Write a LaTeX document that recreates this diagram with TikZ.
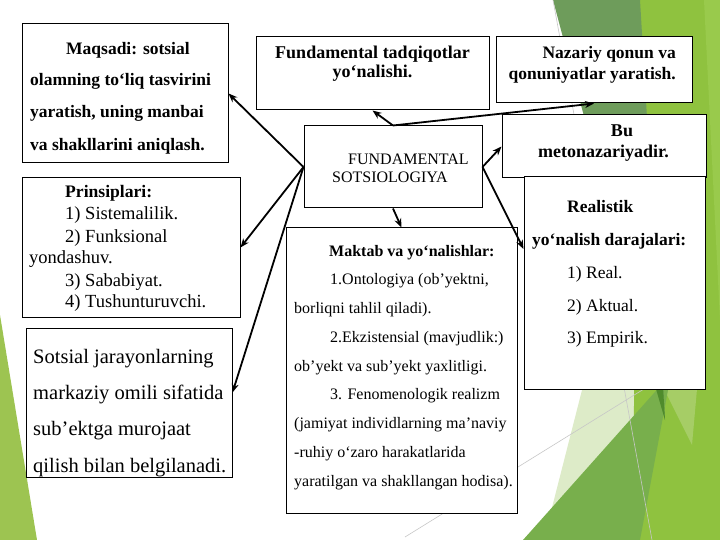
\documentclass[tikz,border=0pt]{standalone}
\usepackage{fontspec}
\setmainfont{Liberation Serif}
\usetikzlibrary{arrows.meta,calc}
\definecolor{leftgreen}{HTML}{9DC451}
\definecolor{sage}{HTML}{6E9C5B}
\definecolor{brightg}{HTML}{8FC23F}
\definecolor{stripg}{HTML}{99CA4C}
\definecolor{mediumg}{HTML}{78AF4C}
\definecolor{paleg}{HTML}{DDEBC8}
\definecolor{darkg}{HTML}{4F8B2C}
\definecolor{lightg}{HTML}{A6CD66}
\begin{document}
\begin{tikzpicture}[x=1pt,y=-1pt,
  box/.style={draw=black,line width=1pt,fill=white,inner sep=0pt},
  conn/.style={line width=1.8pt,-{Stealth[length=9pt,width=7pt]}},
  bt/.style={font=\fontsize{#1}{#1}\selectfont\bfseries,inner sep=0pt,anchor=base west},
  rt/.style={font=\fontsize{#1}{#1}\selectfont,inner sep=0pt,anchor=base west},
  faint/.style={draw=black!22,line width=0.6pt}
]
\useasboundingbox (0,0) rectangle (720,540);
\fill[white] (0,0) rectangle (720,540);
% background decoration
\fill[leftgreen] (0,315) -- (37,540) -- (0,540) -- cycle;
\fill[paleg] (545,535) -- (605,300) -- (700,300) -- (640,470) -- cycle;
\fill[brightg] (637,0) -- (720,0) -- (720,540) -- (633,540) -- cycle;
\fill[stripg] (704,0) -- (720,0) -- (720,320) -- cycle;
\fill[lightg] (664,389) -- (697,389) -- (692,445) -- cycle;
\fill[mediumg] (523,540) -- (640,540) -- (671,374) -- cycle;
\fill[sage] (553,0) -- (640,0) -- (665,420) -- cycle;
\fill[darkg] (653.4,380) -- (662.6,380) -- (665,420) -- cycle;
\draw[faint] (405,537) -- (652,384);
\draw[faint] (553,0) -- (652,540);
% boxes
\node[box,minimum width=206,minimum height=139] (A) at (125,93.5) {};
\node[box,minimum width=233,minimum height=73] (B) at (372.5,73.5) {};
\node[box,minimum width=196,minimum height=66] (C) at (594,70) {};
\node[box,minimum width=178,minimum height=82] (D) at (393,167) {};
\node[box,minimum width=204,minimum height=63] (E) at (604,146.5) {};
\node[box,minimum width=181,minimum height=212] (F) at (614.5,283) {};
\node[box,minimum width=231,minimum height=285] (G) at (401.5,370.5) {};
\node[box,minimum width=218,minimum height=139] (H) at (131,247.5) {};
\node[box,minimum width=206,minimum height=149] (I) at (129,402.5) {};
% texts A
\node[bt=17.5] (a1) at (66,54.5) {Maqsadi: sotsial};
\node[bt=17.5] (a2) at (30,86) {olamning to‘liq tasvirini};
\node[bt=17.5] (a3) at (30,118) {yaratish, uning manbai};
\node[bt=17.5] (a4) at (30,151) {va shakllarini aniqlash.};
% texts B
\node[bt=18,anchor=base] (b1) at (372.5,59) {Fundamental tadqiqotlar};
\node[bt=18,anchor=base] (b2) at (372.5,78) {yo‘nalishi.};
% texts C
\node[bt=17.5,anchor=base east] (c1) at (676,59) {Nazariy qonun va};
\node[bt=17.5,anchor=base east] (c2) at (676,80) {qonuniyatlar yaratish.};
% texts D
\node[rt=16] (d1) at (348,165) {FUNDAMENTAL};
\node[rt=16] (d2) at (332,183) {SOTSIOLOGIYA};
% texts E
\node[bt=18,anchor=base] (e1) at (622,137) {Bu};
\node[bt=18,anchor=base] (e2) at (603.5,158) {metonazariyadir.};
% texts F
\node[bt=17.5] (f1) at (567,213) {Realistik};
\node[bt=17.5] (f2) at (532,245) {yo‘nalish darajalari:};
\node[rt=17.5] (f3) at (567,278) {1) Real.};
\node[rt=17.5] (f4) at (567,311) {2) Aktual.};
\node[rt=17.5] (f5) at (567,343) {3) Empirik.};
% texts G
\node[bt=16] (g1) at (329,256) {Maktab va yo‘nalishlar:};
\node[rt=16] (g2) at (330,284) {1.Ontologiya (ob’yektni,};
\node[rt=16] (g3) at (294,313) {borliqni tahlil qiladi).};
\node[rt=16] (g4) at (330,342) {2.Ekzistensial (mavjudlik:)};
\node[rt=16] (g5) at (294,371) {ob’yekt va sub’yekt yaxlitligi.};
\node[rt=16] (g6) at (330,399) {3. Fenomenologik realizm};
\node[rt=16] (g7) at (294,428) {(jamiyat individlarning ma’naviy};
\node[rt=16] (g8) at (294,457) {-ruhiy o‘zaro harakatlarida};
\node[rt=16] (g9) at (294,486) {yaratilgan va shakllangan hodisa).};
% texts H
\node[bt=17.6] (h1) at (65,198) {Prinsiplari:};
\node[rt=18.5] (h2) at (65,220) {1) Sistemalilik.};
\node[rt=18.5] (h3) at (65,243) {2) Funksional};
\node[rt=18.5] (h4) at (29,263) {yondashuv.};
\node[rt=18.5] (h5) at (65,286) {3) Sababiyat.};
\node[rt=18.5] (h6) at (65,307) {4) Tushunturuvchi.};
% texts I
\node[rt=20.5] (i1) at (33,363) {Sotsial jarayonlarning};
\node[rt=20.5] (i2) at (33,399) {markaziy omili sifatida};
\node[rt=20.5] (i3) at (33,435) {sub’ektga murojaat};
\node[rt=20.5] (i4) at (33,472) {qilish bilan belgilanadi.};
% connectors
\draw[conn] (D.west) -- (A.east);
\draw[conn] (D.west) -- (H.east);
\draw[conn] (D.west) -- ([yshift=10pt]I.east);
\draw[conn] (D.north) -- (B.south);
\draw[conn] (D.north) -- (C.south);
\draw[conn] (D.east) -- (E.west);
\draw[conn] (D.east) -- ([yshift=34pt]F.west);
\draw[conn] (D.south) -- (G.north);
\end{tikzpicture}
\end{document}
